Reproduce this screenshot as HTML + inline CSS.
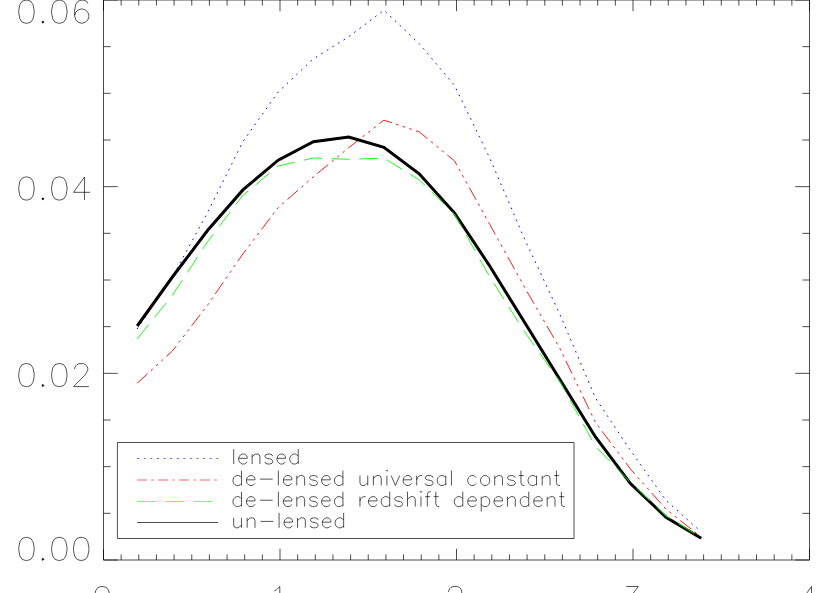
<!DOCTYPE html>
<html><head><meta charset="utf-8"><title>plot</title>
<style>
html,body{margin:0;padding:0;background:#fff;font-family:"Liberation Sans",sans-serif;}
svg{display:block}
path{fill:none;stroke-linecap:butt;stroke-linejoin:round}
.k{stroke:#000;stroke-width:0.7}
.t{stroke:#000;stroke-width:0.67}
text{font-family:"Liberation Sans",sans-serif;fill:#000;fill-opacity:0;stroke:none}
.K{stroke:#000;stroke-width:3.0;stroke-linejoin:miter}
.b{stroke:#00f;stroke-width:0.95;stroke-dasharray:1.7 4.85}
.r{stroke:#f00;stroke-width:0.9;stroke-dasharray:14.1 4.45 2.6 4.45 2.6 4.45 2.6 4.45}
.g{stroke:#0f0;stroke-width:0.9;stroke-dasharray:18.4 9.45}
.b2{stroke:#00f;stroke-width:0.66;stroke-dasharray:1.9 4.7}
.r2{stroke:#f00;stroke-width:0.62;stroke-dasharray:9.8 4.4 2.4 4.4}
.g2{stroke:#0f0;stroke-width:0.57;stroke-dasharray:18.8 9.4}
</style></head><body>
<svg width="830" height="593" viewBox="0 0 830 593">
<rect width="830" height="593" fill="#fff"/>
<path d="M103.50 0.00H809.50V560.00H103.50Z" class="k"/>
<path d="M103.50 560.00v-11.20M103.50 0.00v11.20M121.15 560.00v-5.60M121.15 0.00v5.60M138.80 560.00v-5.60M138.80 0.00v5.60M156.45 560.00v-5.60M156.45 0.00v5.60M174.10 560.00v-5.60M174.10 0.00v5.60M191.75 560.00v-5.60M191.75 0.00v5.60M209.40 560.00v-5.60M209.40 0.00v5.60M227.05 560.00v-5.60M227.05 0.00v5.60M244.70 560.00v-5.60M244.70 0.00v5.60M262.35 560.00v-5.60M262.35 0.00v5.60M280.00 560.00v-11.20M280.00 0.00v11.20M297.65 560.00v-5.60M297.65 0.00v5.60M315.30 560.00v-5.60M315.30 0.00v5.60M332.95 560.00v-5.60M332.95 0.00v5.60M350.60 560.00v-5.60M350.60 0.00v5.60M368.25 560.00v-5.60M368.25 0.00v5.60M385.90 560.00v-5.60M385.90 0.00v5.60M403.55 560.00v-5.60M403.55 0.00v5.60M421.20 560.00v-5.60M421.20 0.00v5.60M438.85 560.00v-5.60M438.85 0.00v5.60M456.50 560.00v-11.20M456.50 0.00v11.20M474.15 560.00v-5.60M474.15 0.00v5.60M491.80 560.00v-5.60M491.80 0.00v5.60M509.45 560.00v-5.60M509.45 0.00v5.60M527.10 560.00v-5.60M527.10 0.00v5.60M544.75 560.00v-5.60M544.75 0.00v5.60M562.40 560.00v-5.60M562.40 0.00v5.60M580.05 560.00v-5.60M580.05 0.00v5.60M597.70 560.00v-5.60M597.70 0.00v5.60M615.35 560.00v-5.60M615.35 0.00v5.60M633.00 560.00v-11.20M633.00 0.00v11.20M650.65 560.00v-5.60M650.65 0.00v5.60M668.30 560.00v-5.60M668.30 0.00v5.60M685.95 560.00v-5.60M685.95 0.00v5.60M703.60 560.00v-5.60M703.60 0.00v5.60M721.25 560.00v-5.60M721.25 0.00v5.60M738.90 560.00v-5.60M738.90 0.00v5.60M756.55 560.00v-5.60M756.55 0.00v5.60M774.20 560.00v-5.60M774.20 0.00v5.60M791.85 560.00v-5.60M791.85 0.00v5.60M809.50 560.00v-11.20M809.50 0.00v11.20M103.50 560.00h14.20M809.50 560.00h-14.20M103.50 513.33h7.10M809.50 513.33h-7.10M103.50 466.67h7.10M809.50 466.67h-7.10M103.50 420.00h7.10M809.50 420.00h-7.10M103.50 373.33h14.20M809.50 373.33h-14.20M103.50 326.67h7.10M809.50 326.67h-7.10M103.50 280.00h7.10M809.50 280.00h-7.10M103.50 233.33h7.10M809.50 233.33h-7.10M103.50 186.67h14.20M809.50 186.67h-14.20M103.50 140.00h7.10M809.50 140.00h-7.10M103.50 93.33h7.10M809.50 93.33h-7.10M103.50 46.67h7.10M809.50 46.67h-7.10M103.50 0.00h14.20M809.50 0.00h-14.20" class="k"/>
<path d="M25.36 0.20L22.07 1.30L19.88 4.59L18.79 10.06L18.79 13.34L19.88 18.82L22.07 22.11L25.36 23.20L27.55 23.20L30.83 22.11L33.02 18.82L34.12 13.34L34.12 10.06L33.02 4.59L30.83 1.30L27.55 0.20L25.36 0.20M42.88 21.01L41.78 22.11L42.88 23.20L43.97 22.11L42.88 21.01M58.21 0.20L54.92 1.30L52.73 4.59L51.64 10.06L51.64 13.34L52.73 18.82L54.92 22.11L58.21 23.20L60.40 23.20L63.68 22.11L65.87 18.82L66.97 13.34L66.97 10.06L65.87 4.59L63.68 1.30L60.40 0.20L58.21 0.20M87.77 3.49L86.67 1.30L83.39 0.20L81.20 0.20L77.92 1.30L75.72 4.59L74.63 10.06L74.63 15.54L75.72 19.91L77.92 22.11L81.20 23.20L82.30 23.20L85.58 22.11L87.77 19.91L88.86 16.63L88.86 15.54L87.77 12.25L85.58 10.06L82.30 8.96L81.20 8.96L77.92 10.06L75.72 12.25L74.63 15.54M25.36 177.00L22.07 178.10L19.88 181.38L18.79 186.86L18.79 190.15L19.88 195.62L22.07 198.91L25.36 200.00L27.55 200.00L30.83 198.91L33.02 195.62L34.12 190.15L34.12 186.86L33.02 181.38L30.83 178.10L27.55 177.00L25.36 177.00M42.88 197.81L41.78 198.91L42.88 200.00L43.97 198.91L42.88 197.81M58.21 177.00L54.92 178.10L52.73 181.38L51.64 186.86L51.64 190.15L52.73 195.62L54.92 198.91L58.21 200.00L60.40 200.00L63.68 198.91L65.87 195.62L66.97 190.15L66.97 186.86L65.87 181.38L63.68 178.10L60.40 177.00L58.21 177.00M84.48 177.00L73.53 192.34L89.96 192.34M84.48 177.00L84.48 200.00M25.36 363.61L22.07 364.70L19.88 367.99L18.79 373.46L18.79 376.75L19.88 382.22L22.07 385.50L25.36 386.60L27.55 386.60L30.83 385.50L33.02 382.22L34.12 376.75L34.12 373.46L33.02 367.99L30.83 364.70L27.55 363.61L25.36 363.61M42.88 384.41L41.78 385.50L42.88 386.60L43.97 385.50L42.88 384.41M58.21 363.61L54.92 364.70L52.73 367.99L51.64 373.46L51.64 376.75L52.73 382.22L54.92 385.50L58.21 386.60L60.40 386.60L63.68 385.50L65.87 382.22L66.97 376.75L66.97 373.46L65.87 367.99L63.68 364.70L60.40 363.61L58.21 363.61M74.63 369.08L74.63 367.99L75.72 365.80L76.82 364.70L79.01 363.61L83.39 363.61L85.58 364.70L86.67 365.80L87.77 367.99L87.77 370.18L86.67 372.37L84.48 375.65L73.53 386.60L88.86 386.60M25.36 537.40L22.07 538.50L19.88 541.78L18.79 547.26L18.79 550.54L19.88 556.02L22.07 559.30L25.36 560.40L27.55 560.40L30.83 559.30L33.02 556.02L34.12 550.54L34.12 547.26L33.02 541.78L30.83 538.50L27.55 537.40L25.36 537.40M42.88 558.21L41.78 559.30L42.88 560.40L43.97 559.30L42.88 558.21M58.21 537.40L54.92 538.50L52.73 541.78L51.64 547.26L51.64 550.54L52.73 556.02L54.92 559.30L58.21 560.40L60.40 560.40L63.68 559.30L65.87 556.02L66.97 550.54L66.97 547.26L65.87 541.78L63.68 538.50L60.40 537.40L58.21 537.40M80.11 537.40L76.82 538.50L74.63 541.78L73.53 547.26L73.53 550.54L74.63 556.02L76.82 559.30L80.11 560.40L82.30 560.40L85.58 559.30L87.77 556.02L88.86 550.54L88.86 547.26L87.77 541.78L85.58 538.50L82.30 537.40L80.11 537.40M101.11 586.50L97.82 587.60L95.63 590.88L94.53 596.36L94.53 599.64L95.63 605.12L97.82 608.40L101.11 609.50L103.30 609.50L106.58 608.40L108.77 605.12L109.86 599.64L109.86 596.36L108.77 590.88L106.58 587.60L103.30 586.50L101.11 586.50M274.32 590.88L276.51 589.79L279.80 586.50L279.80 609.50M448.63 591.98L448.63 590.88L449.73 588.70L450.82 587.60L453.01 586.50L457.39 586.50L459.58 587.60L460.68 588.70L461.77 590.88L461.77 593.08L460.68 595.26L458.49 598.55L447.54 609.50L462.87 609.50M626.23 586.50L638.27 586.50L631.70 595.26L634.99 595.26L637.17 596.36L638.27 597.46L639.37 600.74L639.37 602.93L638.27 606.22L636.08 608.40L632.79 609.50L629.51 609.50L626.23 608.40L625.13 607.31L624.03 605.12M811.49 586.50L800.53 601.84L816.96 601.84M811.49 586.50L811.49 609.50" class="t"/>
<circle cx="42.88" cy="22.11" r="1.05" fill="#222"/>
<circle cx="42.88" cy="198.91" r="1.05" fill="#222"/>
<circle cx="42.88" cy="385.50" r="1.05" fill="#222"/>
<circle cx="42.88" cy="559.30" r="1.05" fill="#222"/>
<path d="M117.4 442.5H574.0V538.5H117.4Z" class="k"/>
<path d="M233.69 449.10L233.69 464.00M238.65 458.33L247.16 458.33L247.16 456.91L246.45 455.49L245.75 454.78L244.33 454.07L242.20 454.07L240.78 454.78L239.36 456.20L238.65 458.33L238.65 459.74L239.36 461.87L240.78 463.29L242.20 464.00L244.33 464.00L245.75 463.29L247.16 461.87M252.13 454.07L252.13 464.00M252.13 456.91L254.26 454.78L255.68 454.07L257.80 454.07L259.22 454.78L259.93 456.91L259.93 464.00M272.70 456.20L271.99 454.78L269.86 454.07L267.73 454.07L265.61 454.78L264.90 456.20L265.61 457.62L267.02 458.33L270.57 459.03L271.99 459.74L272.70 461.16L272.70 461.87L271.99 463.29L269.86 464.00L267.73 464.00L265.61 463.29L264.90 461.87M276.95 458.33L285.47 458.33L285.47 456.91L284.76 455.49L284.05 454.78L282.63 454.07L280.50 454.07L279.08 454.78L277.66 456.20L276.95 458.33L276.95 459.74L277.66 461.87L279.08 463.29L280.50 464.00L282.63 464.00L284.05 463.29L285.47 461.87M298.23 449.10L298.23 464.00M298.23 456.20L296.81 454.78L295.40 454.07L293.27 454.07L291.85 454.78L290.43 456.20L289.72 458.33L289.72 459.74L290.43 461.87L291.85 463.29L293.27 464.00L295.40 464.00L296.81 463.29L298.23 461.87M241.49 470.60L241.49 485.50M241.49 477.70L240.07 476.28L238.65 475.57L236.52 475.57L235.11 476.28L233.69 477.70L232.98 479.83L232.98 481.24L233.69 483.37L235.11 484.79L236.52 485.50L238.65 485.50L240.07 484.79L241.49 483.37M246.45 479.83L254.97 479.83L254.97 478.41L254.26 476.99L253.55 476.28L252.13 475.57L250.00 475.57L248.58 476.28L247.16 477.70L246.45 479.83L246.45 481.24L247.16 483.37L248.58 484.79L250.00 485.50L252.13 485.50L253.55 484.79L254.97 483.37M259.93 479.12L272.70 479.12M278.37 470.60L278.37 485.50M283.34 479.83L291.85 479.83L291.85 478.41L291.14 476.99L290.43 476.28L289.01 475.57L286.88 475.57L285.47 476.28L284.05 477.70L283.34 479.83L283.34 481.24L284.05 483.37L285.47 484.79L286.88 485.50L289.01 485.50L290.43 484.79L291.85 483.37M296.81 475.57L296.81 485.50M296.81 478.41L298.94 476.28L300.36 475.57L302.49 475.57L303.91 476.28L304.62 478.41L304.62 485.50M317.38 477.70L316.68 476.28L314.55 475.57L312.42 475.57L310.29 476.28L309.58 477.70L310.29 479.12L311.71 479.83L315.26 480.53L316.68 481.24L317.38 482.66L317.38 483.37L316.68 484.79L314.55 485.50L312.42 485.50L310.29 484.79L309.58 483.37M321.64 479.83L330.15 479.83L330.15 478.41L329.44 476.99L328.73 476.28L327.31 475.57L325.19 475.57L323.77 476.28L322.35 477.70L321.64 479.83L321.64 481.24L322.35 483.37L323.77 484.79L325.19 485.50L327.31 485.50L328.73 484.79L330.15 483.37M342.92 470.60L342.92 485.50M342.92 477.70L341.50 476.28L340.08 475.57L337.95 475.57L336.54 476.28L335.12 477.70L334.41 479.83L334.41 481.24L335.12 483.37L336.54 484.79L337.95 485.50L340.08 485.50L341.50 484.79L342.92 483.37M359.94 475.57L359.94 482.66L360.65 484.79L362.07 485.50L364.20 485.50L365.62 484.79L367.74 482.66M367.74 475.57L367.74 485.50M373.42 475.57L373.42 485.50M373.42 478.41L375.55 476.28L376.97 475.57L379.09 475.57L380.51 476.28L381.22 478.41L381.22 485.50M386.19 470.60L386.90 471.31L387.61 470.60L386.90 469.90L386.19 470.60M386.90 475.57L386.90 485.50M391.15 475.57L395.41 485.50M399.66 475.57L395.41 485.50M403.21 479.83L411.72 479.83L411.72 478.41L411.01 476.99L410.30 476.28L408.88 475.57L406.76 475.57L405.34 476.28L403.92 477.70L403.21 479.83L403.21 481.24L403.92 483.37L405.34 484.79L406.76 485.50L408.88 485.50L410.30 484.79L411.72 483.37M416.69 475.57L416.69 485.50M416.69 479.83L417.40 477.70L418.81 476.28L420.23 475.57L422.36 475.57M433.00 477.70L432.29 476.28L430.16 475.57L428.04 475.57L425.91 476.28L425.20 477.70L425.91 479.12L427.33 479.83L430.87 480.53L432.29 481.24L433.00 482.66L433.00 483.37L432.29 484.79L430.16 485.50L428.04 485.50L425.91 484.79L425.20 483.37M445.77 475.57L445.77 485.50M445.77 477.70L444.35 476.28L442.93 475.57L440.80 475.57L439.38 476.28L437.97 477.70L437.26 479.83L437.26 481.24L437.97 483.37L439.38 484.79L440.80 485.50L442.93 485.50L444.35 484.79L445.77 483.37M451.44 470.60L451.44 485.50M476.27 477.70L474.85 476.28L473.43 475.57L471.30 475.57L469.88 476.28L468.47 477.70L467.76 479.83L467.76 481.24L468.47 483.37L469.88 484.79L471.30 485.50L473.43 485.50L474.85 484.79L476.27 483.37M484.07 475.57L482.65 476.28L481.23 477.70L480.52 479.83L480.52 481.24L481.23 483.37L482.65 484.79L484.07 485.50L486.20 485.50L487.62 484.79L489.04 483.37L489.74 481.24L489.74 479.83L489.04 477.70L487.62 476.28L486.20 475.57L484.07 475.57M494.71 475.57L494.71 485.50M494.71 478.41L496.84 476.28L498.26 475.57L500.38 475.57L501.80 476.28L502.51 478.41L502.51 485.50M515.28 477.70L514.57 476.28L512.44 475.57L510.31 475.57L508.19 476.28L507.48 477.70L508.19 479.12L509.60 479.83L513.15 480.53L514.57 481.24L515.28 482.66L515.28 483.37L514.57 484.79L512.44 485.50L510.31 485.50L508.19 484.79L507.48 483.37M520.95 470.60L520.95 482.66L521.66 484.79L523.08 485.50L524.50 485.50M518.83 475.57L523.79 475.57M536.56 475.57L536.56 485.50M536.56 477.70L535.14 476.28L533.72 475.57L531.59 475.57L530.17 476.28L528.76 477.70L528.05 479.83L528.05 481.24L528.76 483.37L530.17 484.79L531.59 485.50L533.72 485.50L535.14 484.79L536.56 483.37M542.23 475.57L542.23 485.50M542.23 478.41L544.36 476.28L545.78 475.57L547.91 475.57L549.33 476.28L550.04 478.41L550.04 485.50M556.42 470.60L556.42 482.66L557.13 484.79L558.55 485.50L559.97 485.50M554.29 475.57L559.26 475.57M241.49 491.70L241.49 506.60M241.49 498.80L240.07 497.38L238.65 496.67L236.52 496.67L235.11 497.38L233.69 498.80L232.98 500.93L232.98 502.34L233.69 504.47L235.11 505.89L236.52 506.60L238.65 506.60L240.07 505.89L241.49 504.47M246.45 500.93L254.97 500.93L254.97 499.51L254.26 498.09L253.55 497.38L252.13 496.67L250.00 496.67L248.58 497.38L247.16 498.80L246.45 500.93L246.45 502.34L247.16 504.47L248.58 505.89L250.00 506.60L252.13 506.60L253.55 505.89L254.97 504.47M259.93 500.22L272.70 500.22M278.37 491.70L278.37 506.60M283.34 500.93L291.85 500.93L291.85 499.51L291.14 498.09L290.43 497.38L289.01 496.67L286.88 496.67L285.47 497.38L284.05 498.80L283.34 500.93L283.34 502.34L284.05 504.47L285.47 505.89L286.88 506.60L289.01 506.60L290.43 505.89L291.85 504.47M296.81 496.67L296.81 506.60M296.81 499.51L298.94 497.38L300.36 496.67L302.49 496.67L303.91 497.38L304.62 499.51L304.62 506.60M317.38 498.80L316.68 497.38L314.55 496.67L312.42 496.67L310.29 497.38L309.58 498.80L310.29 500.22L311.71 500.93L315.26 501.63L316.68 502.34L317.38 503.76L317.38 504.47L316.68 505.89L314.55 506.60L312.42 506.60L310.29 505.89L309.58 504.47M321.64 500.93L330.15 500.93L330.15 499.51L329.44 498.09L328.73 497.38L327.31 496.67L325.19 496.67L323.77 497.38L322.35 498.80L321.64 500.93L321.64 502.34L322.35 504.47L323.77 505.89L325.19 506.60L327.31 506.60L328.73 505.89L330.15 504.47M342.92 491.70L342.92 506.60M342.92 498.80L341.50 497.38L340.08 496.67L337.95 496.67L336.54 497.38L335.12 498.80L334.41 500.93L334.41 502.34L335.12 504.47L336.54 505.89L337.95 506.60L340.08 506.60L341.50 505.89L342.92 504.47M359.94 496.67L359.94 506.60M359.94 500.93L360.65 498.80L362.07 497.38L363.49 496.67L365.62 496.67M368.45 500.93L376.97 500.93L376.97 499.51L376.26 498.09L375.55 497.38L374.13 496.67L372.00 496.67L370.58 497.38L369.16 498.80L368.45 500.93L368.45 502.34L369.16 504.47L370.58 505.89L372.00 506.60L374.13 506.60L375.55 505.89L376.97 504.47M389.73 491.70L389.73 506.60M389.73 498.80L388.31 497.38L386.90 496.67L384.77 496.67L383.35 497.38L381.93 498.80L381.22 500.93L381.22 502.34L381.93 504.47L383.35 505.89L384.77 506.60L386.90 506.60L388.31 505.89L389.73 504.47M402.50 498.80L401.79 497.38L399.66 496.67L397.54 496.67L395.41 497.38L394.70 498.80L395.41 500.22L396.83 500.93L400.37 501.63L401.79 502.34L402.50 503.76L402.50 504.47L401.79 505.89L399.66 506.60L397.54 506.60L395.41 505.89L394.70 504.47M407.47 491.70L407.47 506.60M407.47 499.51L409.59 497.38L411.01 496.67L413.14 496.67L414.56 497.38L415.27 499.51L415.27 506.60M420.23 491.70L420.94 492.41L421.65 491.70L420.94 491.00L420.23 491.70M420.94 496.67L420.94 506.60M430.87 491.70L429.45 491.70L428.04 492.41L427.33 494.54L427.33 506.60M425.20 496.67L430.16 496.67M435.84 491.70L435.84 503.76L436.55 505.89L437.97 506.60L439.38 506.60M433.71 496.67L438.67 496.67M462.79 491.70L462.79 506.60M462.79 498.80L461.37 497.38L459.95 496.67L457.83 496.67L456.41 497.38L454.99 498.80L454.28 500.93L454.28 502.34L454.99 504.47L456.41 505.89L457.83 506.60L459.95 506.60L461.37 505.89L462.79 504.47M467.76 500.93L476.27 500.93L476.27 499.51L475.56 498.09L474.85 497.38L473.43 496.67L471.30 496.67L469.88 497.38L468.47 498.80L467.76 500.93L467.76 502.34L468.47 504.47L469.88 505.89L471.30 506.60L473.43 506.60L474.85 505.89L476.27 504.47M481.23 496.67L481.23 511.57M481.23 498.80L482.65 497.38L484.07 496.67L486.20 496.67L487.62 497.38L489.04 498.80L489.74 500.93L489.74 502.34L489.04 504.47L487.62 505.89L486.20 506.60L484.07 506.60L482.65 505.89L481.23 504.47M494.00 500.93L502.51 500.93L502.51 499.51L501.80 498.09L501.09 497.38L499.67 496.67L497.55 496.67L496.13 497.38L494.71 498.80L494.00 500.93L494.00 502.34L494.71 504.47L496.13 505.89L497.55 506.60L499.67 506.60L501.09 505.89L502.51 504.47M507.48 496.67L507.48 506.60M507.48 499.51L509.60 497.38L511.02 496.67L513.15 496.67L514.57 497.38L515.28 499.51L515.28 506.60M528.76 491.70L528.76 506.60M528.76 498.80L527.34 497.38L525.92 496.67L523.79 496.67L522.37 497.38L520.95 498.80L520.24 500.93L520.24 502.34L520.95 504.47L522.37 505.89L523.79 506.60L525.92 506.60L527.34 505.89L528.76 504.47M533.72 500.93L542.23 500.93L542.23 499.51L541.52 498.09L540.81 497.38L539.40 496.67L537.27 496.67L535.85 497.38L534.43 498.80L533.72 500.93L533.72 502.34L534.43 504.47L535.85 505.89L537.27 506.60L539.40 506.60L540.81 505.89L542.23 504.47M547.20 496.67L547.20 506.60M547.20 499.51L549.33 497.38L550.74 496.67L552.87 496.67L554.29 497.38L555.00 499.51L555.00 506.60M561.38 491.70L561.38 503.76L562.09 505.89L563.51 506.60L564.93 506.60M559.26 496.67L564.22 496.67M233.69 517.87L233.69 524.96L234.40 527.09L235.82 527.80L237.94 527.80L239.36 527.09L241.49 524.96M241.49 517.87L241.49 527.80M247.16 517.87L247.16 527.80M247.16 520.71L249.29 518.58L250.71 517.87L252.84 517.87L254.26 518.58L254.97 520.71L254.97 527.80M260.64 521.42L273.41 521.42M279.08 512.90L279.08 527.80M284.05 522.13L292.56 522.13L292.56 520.71L291.85 519.29L291.14 518.58L289.72 517.87L287.59 517.87L286.18 518.58L284.76 520.00L284.05 522.13L284.05 523.54L284.76 525.67L286.18 527.09L287.59 527.80L289.72 527.80L291.14 527.09L292.56 525.67M297.52 517.87L297.52 527.80M297.52 520.71L299.65 518.58L301.07 517.87L303.20 517.87L304.62 518.58L305.33 520.71L305.33 527.80M318.09 520.00L317.38 518.58L315.26 517.87L313.13 517.87L311.00 518.58L310.29 520.00L311.00 521.42L312.42 522.13L315.97 522.83L317.38 523.54L318.09 524.96L318.09 525.67L317.38 527.09L315.26 527.80L313.13 527.80L311.00 527.09L310.29 525.67M322.35 522.13L330.86 522.13L330.86 520.71L330.15 519.29L329.44 518.58L328.02 517.87L325.90 517.87L324.48 518.58L323.06 520.00L322.35 522.13L322.35 523.54L323.06 525.67L324.48 527.09L325.90 527.80L328.02 527.80L329.44 527.09L330.86 525.67M343.63 512.90L343.63 527.80M343.63 520.00L342.21 518.58L340.79 517.87L338.66 517.87L337.25 518.58L335.83 520.00L335.12 522.13L335.12 523.54L335.83 525.67L337.25 527.09L338.66 527.80L340.79 527.80L342.21 527.09L343.63 525.67" class="t"/>
<path d="M137.2 458.5H218.2" class="b2"/>
<path d="M137.2 480.0H218.2" class="r2"/>
<path d="M137.2 501.5H218.2" class="g2"/>
<path d="M137.2 522.5H218.2" class="k"/>
<path d="M137.2 329.0L172.4 277.0L207.7 212.3L242.9 141.6L278.2 92.0L313.4 58.8L348.7 36.8L383.9 10.2L419.2 43.7L454.4 85.2L489.7 158.0L525.0 240.0L560.2 315.0L595.5 398.0L630.7 450.8L666.0 500.4L701.2 532.0" class="b"/>
<path d="M137.2 383.2L172.4 351.0L207.7 304.9L242.9 253.9L278.2 207.6L313.4 176.8L348.7 147.7L383.9 120.2L419.2 131.8L454.4 160.8L489.7 224.2L525.0 288.1L560.2 349.0L595.5 422.5L630.7 469.3L666.0 509.2L701.2 537.0" class="r"/>
<path d="M137.2 326.0L172.4 277.0L207.7 230.3L242.9 189.9L278.2 160.2L313.4 141.7L348.7 137.1L383.9 147.4L419.2 173.8L454.4 212.8L489.7 266.0L525.0 323.0L560.2 380.0L595.5 437.0L630.7 483.8L666.0 517.2L701.2 538.3" class="K"/>
<path d="M137.2 339.0L172.4 295.3L207.7 241.5L242.9 195.4L278.2 166.0L313.4 158.0L348.7 159.3L383.9 158.1L419.2 179.8L454.4 214.0L489.7 276.7L525.0 332.5L560.2 382.0L595.5 446.5L630.7 482.5L666.0 515.9L701.2 537.6" class="g"/>
<text x="92" y="23.2" font-size="24" text-anchor="end">0.06</text>
<text x="92" y="200.0" font-size="24" text-anchor="end">0.04</text>
<text x="92" y="386.6" font-size="24" text-anchor="end">0.02</text>
<text x="92" y="560.4" font-size="24" text-anchor="end">0.00</text>
<text x="102.2" y="609.5" font-size="24" text-anchor="middle">0</text>
<text x="278.7" y="609.5" font-size="24" text-anchor="middle">1</text>
<text x="455.2" y="609.5" font-size="24" text-anchor="middle">2</text>
<text x="631.7" y="609.5" font-size="24" text-anchor="middle">3</text>
<text x="808.2" y="609.5" font-size="24" text-anchor="middle">4</text>
<text x="230.9" y="464.0" font-size="15">lensed</text>
<text x="230.9" y="485.5" font-size="15">de-lensed universal constant</text>
<text x="230.9" y="506.6" font-size="15">de-lensed redshift dependent</text>
<text x="230.9" y="527.8" font-size="15">un-lensed</text>
</svg>
</body></html>
